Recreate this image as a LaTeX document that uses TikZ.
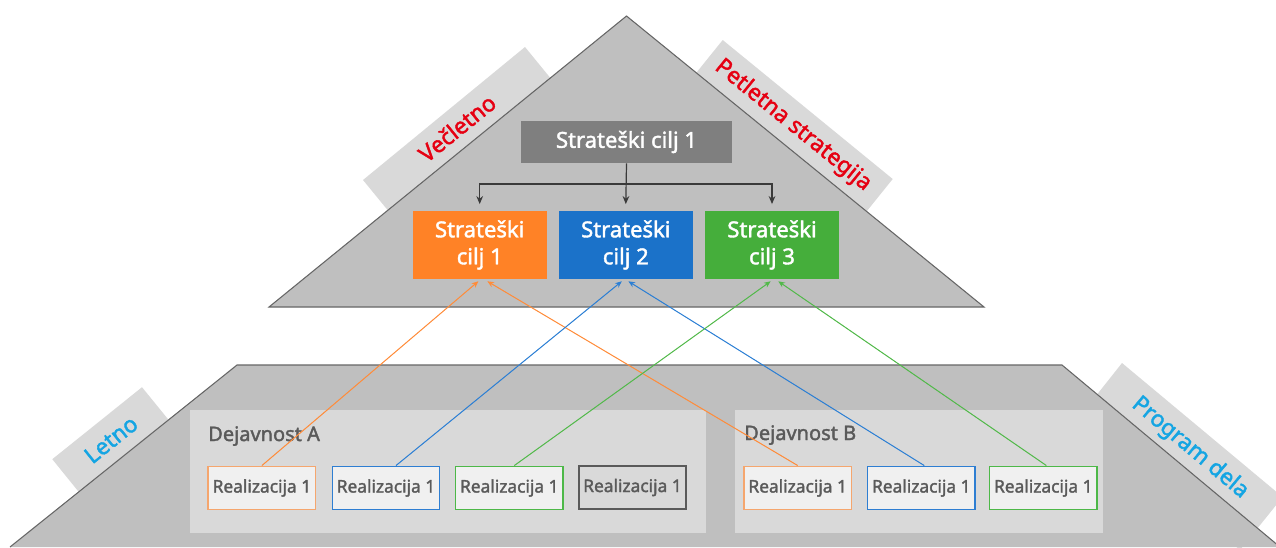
\documentclass[tikz,border=0pt]{standalone}
\usepackage{fontspec}
\setmainfont{Noto Sans}[FakeBold=1.8]
\usetikzlibrary{arrows.meta}
\definecolor{shapegray}{HTML}{BFBFBF}
\definecolor{shapeline}{HTML}{666666}
\definecolor{bandgray}{HTML}{D9D9D9}
\definecolor{panelgray}{HTML}{D9D9D9}
\definecolor{boxfill}{HTML}{F0F0F0}
\definecolor{txtgray}{HTML}{5A5A5A}
\definecolor{topgray}{HTML}{7F7F7F}
\definecolor{corange}{HTML}{FF8226}
\definecolor{cblue}{HTML}{1B72C9}
\definecolor{cgreen}{HTML}{45AE3B}
\definecolor{borange}{HTML}{F5A66E}
\definecolor{bblue}{HTML}{2E7ED2}
\definecolor{bgreen}{HTML}{4DB848}
\definecolor{lorange}{HTML}{FF8C3A}
\definecolor{lblue}{HTML}{2C7FD4}
\definecolor{lgreen}{HTML}{52B94A}
\definecolor{redtxt}{HTML}{E60012}
\definecolor{cyantxt}{HTML}{14A5E3}
\definecolor{darr}{HTML}{3A3A3A}
\begin{document}
\begin{tikzpicture}[x=0.75pt,y=-0.75pt,
  bandfill/.style={fill=bandgray},
  redlabel/.style={text=redtxt,font=\fontsize{17}{20}\selectfont,inner sep=0pt},
  cyanlabel/.style={text=cyantxt,font=\fontsize{17}{20}\selectfont,inner sep=0pt},
  edgeline/.style={draw=shapeline,line width=0.8pt},
  panel/.style={fill=panelgray,anchor=north west,minimum height=92.25pt,inner sep=0pt},
  paneltitle/.style={text=txtgray,font=\fontsize{15}{18}\selectfont,anchor=base west,inner sep=0pt},
  topbox/.style={fill=topgray,text=white,minimum width=158.25pt,minimum height=31.5pt,inner sep=0pt,font=\fontsize{16.5}{20}\selectfont},
  goalbox/.style={text=white,minimum width=100.5pt,minimum height=51pt,inner sep=0pt,align=center,font=\fontsize{16.5}{20.25}\selectfont},
  realbox/.style={fill=boxfill,text=txtgray,minimum width=80.5pt,minimum height=32.5pt,inner sep=0pt,line width=1.2pt,font=\fontsize{13}{15}\selectfont},
  blackarrow/.style={draw=darr,line width=0.9pt,-{Stealth[length=6pt,width=5pt]}},
  colorarrow/.style={line width=0.75pt,-{Stealth[length=5pt,width=4.2pt]}}
]
\useasboundingbox (0,0) rectangle (1276,547);

% label bands behind the shapes
\fill[bandfill] (363,180) -- (525,47) -- (570,102) -- (408,235) -- cycle;
\fill[bandfill] (722.7,40) -- (892.7,179) -- (850,232) -- (680,93) -- cycle;
\fill[bandfill] (52.3,459.2) -- (142,387.2) -- (185,440) -- (95,512) -- cycle;
\fill[bandfill] (1122,363) -- (1282.6,497) -- (1240,550) -- (1080,416) -- cycle;

% triangle
\draw[edgeline,fill=shapegray] (269,307) -- (626.5,16) -- (984,307) -- cycle;
% trapezoid
\fill[shapegray] (10,547) -- (237,365) -- (1062,365) -- (1280,547) -- cycle;
\draw[edgeline] (10,547) -- (237,365) -- (1062,365) -- (1280,547);

% band labels
\node[redlabel,rotate=39.1] (lvec) at (457,128) {Večletno};
\node[redlabel,rotate=-39.1] (lpet) at (793,125.5) {Petletna strategija};
\node[cyanlabel,rotate=38.7] (llet) at (111,439.5) {Letno};
\node[cyanlabel,rotate=-40] (lprog) at (1190,448) {Program dela};

% activity panels
\node[panel,minimum width=387pt] (pa) at (190,410) {};
\node[panel,minimum width=276pt] (pb) at (735,410) {};
\node[paneltitle] (ta) at (208,441) {Dejavnost A};
\node[paneltitle] (tb) at (744,440) {Dejavnost B};

% strategic goals
\node[topbox] (top) at (626.5,142) {Strateški cilj 1};
\node[goalbox,fill=corange] (g1) at (479.7,245) {Strateški\\cilj 1};
\node[goalbox,fill=cblue] (g2) at (625.8,245) {Strateški\\cilj 2};
\node[goalbox,fill=cgreen] (g3) at (772,245) {Strateški\\cilj 3};

\coordinate (hl) at (626.5,184);
\draw[blackarrow] (top.south) -- ([yshift=5pt]g2.north);
\draw[blackarrow] (top.south |- hl) -| ([yshift=5pt]g1.north);
\draw[blackarrow] (top.south |- hl) -| ([yshift=5pt]g3.north);

% realizations
\node[realbox,draw=borange] (a1) at (261.9,488) {Realizacija 1};
\node[realbox,draw=bblue] (a2) at (386,488) {Realizacija 1};
\node[realbox,draw=bgreen] (a3) at (509.3,488) {Realizacija 1};
\node[realbox,draw=txtgray,fill=panelgray] (a4) at (632.5,487.5) {Realizacija 1};
\node[realbox,draw=borange] (b1) at (797.7,488) {Realizacija 1};
\node[realbox,draw=bblue] (b2) at (921.3,488) {Realizacija 1};
\node[realbox,draw=bgreen] (b3) at (1043.3,488) {Realizacija 1};

% links realization -> goal
\draw[colorarrow,draw=lorange,fill=lorange] (a1.north) -- ([xshift=-1pt,yshift=-1.5pt]g1.south);
\draw[colorarrow,draw=lorange,fill=lorange] (b1.north) -- ([xshift=5.7pt,yshift=-1.5pt]g1.south);
\draw[colorarrow,draw=lblue,fill=lblue] ([xshift=7.5pt]a2.north) -- ([xshift=-3pt,yshift=-1.5pt]g2.south);
\draw[colorarrow,draw=lblue,fill=lblue] ([xshift=2.2pt]b2.north) -- ([xshift=1.9pt,yshift=-1.5pt]g2.south);
\draw[colorarrow,draw=lgreen,fill=lgreen] ([xshift=3.75pt]a3.north) -- ([xshift=-1pt,yshift=-1.5pt]g3.south);
\draw[colorarrow,draw=lgreen,fill=lgreen] ([xshift=2.3pt]b3.north) -- ([xshift=4.7pt,yshift=-1.5pt]g3.south);
\end{tikzpicture}
\end{document}
